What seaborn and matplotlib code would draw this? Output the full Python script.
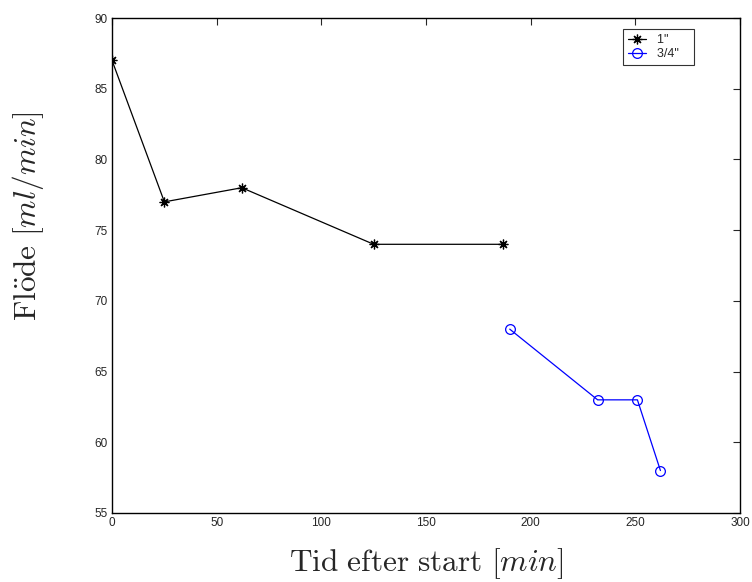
import matplotlib
matplotlib.use("Agg")
import matplotlib.pyplot as plt
from matplotlib.lines import Line2D
import seaborn as sns
import pandas as pd

# Flow measurements for the two hose diameters
tid_1 = [0, 25, 62, 125, 187]
flode_1 = [87, 77, 78, 74, 74]
tid_34 = [190, 232, 251, 262]
flode_34 = [68, 63, 63, 58]
serie_namn = ['1"', '3/4"']

x_ticks = [0, 50, 100, 150, 200, 250, 300]
y_ticks = [55, 60, 65, 70, 75, 80, 85, 90]

sns.set_style("white")
plt.rcParams["font.family"] = ["Liberation Sans", "DejaVu Sans"]
plt.rcParams["mathtext.fontset"] = "cm"

serier = [
    pd.DataFrame({"tid": tid_1, "flode": flode_1}),
    pd.DataFrame({"tid": tid_34, "flode": flode_34}),
]

farger = ["black", "blue"]
asterisk = (8, 2, 0)
markorer = [asterisk, "o"]
msize = [7, 7]

fig = plt.figure(figsize=(7.52, 5.82), dpi=100)
ax = fig.add_axes([0.149, 0.1186, 0.835, 0.8504])

for d, c, m, s in zip(serier, farger, markorer, msize):
    sns.lineplot(data=d, x="tid", y="flode", color=c, marker=m,
                 markersize=s, markeredgewidth=0.9, markeredgecolor=c,
                 markerfacecolor="none", linewidth=0.9, ax=ax, sort=False)

ax.set_xlim(0, 300)
ax.set_ylim(55, 90)
ax.set_xticks(x_ticks)
ax.set_yticks(y_ticks)
ax.tick_params(direction="in", length=5, width=0.8, top=True, right=True,
               labelsize=8.5, pad=3)
for sp in ax.spines.values():
    sp.set_linewidth(1.0)
    sp.set_color("black")

ax.set_xlabel(r"$\mathrm{Tid\ efter\ start}\ [min]$", fontsize=22.5, labelpad=12)
ax.set_ylabel(r"$\mathrm{Fl\ddot{o}de}\ [ml/min]$", fontsize=22.5)
ax.yaxis.set_label_coords(-0.105, 0.60)

# legend with short sample lines and extra room to the right of the labels
handles = [Line2D([], [], color=c, marker=m, markersize=s, linewidth=0.9,
                  markeredgewidth=0.9, markerfacecolor="none", markeredgecolor=c)
           for c, m, s in zip(farger, markorer, msize)]
leg = ax.legend(handles, [n + "   " for n in serie_namn], loc="upper right",
                fontsize=9, frameon=True, fancybox=False, edgecolor="black",
                bbox_to_anchor=(0.927, 0.978), borderaxespad=0,
                handlelength=1.4, borderpad=0.4, labelspacing=0.2,
                handletextpad=0.9)
leg.get_frame().set_linewidth(0.8)

fig.savefig("out.png", dpi=100)
